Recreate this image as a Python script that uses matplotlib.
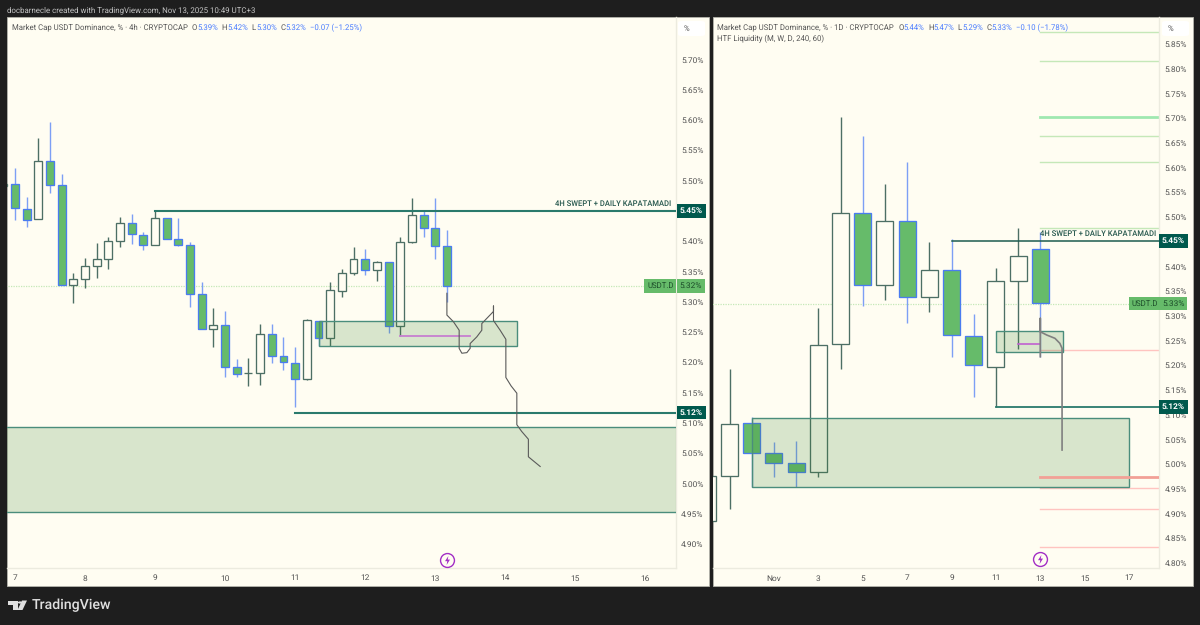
import matplotlib
matplotlib.use('Agg')
import matplotlib.pyplot as plt
from matplotlib.patches import Rectangle, Polygon, Circle, FancyBboxPatch

plt.rcParams['font.family'] = ['Roboto', 'DejaVu Sans']
plt.rcParams['text.hinting'] = 'none'

W, H = 1200, 625
BG = '#1e1e1e'
PANEL = '#fffdf2'
GREEN = '#66bb6a'
BLUE = '#4a7cf0'
WICK_BLUE = '#7d9ff5'
DARK = '#4d6f65'
TEAL = '#2a7a6c'
LABEL = '#00594d'
TEXT = '#555555'
HEAD_BLUE = '#4a7dff'
ZONE = (60 / 255, 133 / 255, 52 / 255, 0.2)

# 4h candles, bar -1 is the one cut off at the left edge
h4_bars = list(range(-1, 38))
h4_open = [5.491, 5.494, 5.4527, 5.436, 5.533, 5.493, 5.327, 5.3376, 5.3586, 5.370,
           5.400, 5.430, 5.411, 5.393, 5.438, 5.403, 5.394, 5.312, 5.255, 5.261,
           5.192, 5.182, 5.182, 5.246, 5.2104, 5.199, 5.173, 5.269, 5.240, 5.318,
           5.3475, 5.371, 5.352, 5.365, 5.2595, 5.399, 5.443, 5.422, 5.3926]
h4_close = [5.494, 5.4543, 5.435, 5.533, 5.493, 5.327, 5.337, 5.3586, 5.370, 5.400,
            5.4306, 5.4114, 5.393, 5.438, 5.4036, 5.394, 5.312, 5.255, 5.2616, 5.193,
            5.181, 5.182, 5.246, 5.211, 5.200, 5.173, 5.270, 5.240, 5.319, 5.3475,
            5.371, 5.352, 5.366, 5.2595, 5.399, 5.443, 5.422, 5.3926, 5.3265]
h4_high = [5.494, 5.5214, 5.4725, 5.570, 5.597, 5.5105, 5.348, 5.3728, 5.3975, 5.4064,
           5.4405, 5.445, 5.415, 5.4515, 5.438, 5.438, 5.399, 5.3326, 5.289, 5.285,
           5.2055, 5.2076, 5.264, 5.264, 5.242, 5.225, 5.271, 5.269, 5.3326, 5.3536,
           5.390, 5.387, 5.368, 5.365, 5.4064, 5.471, 5.4515, 5.471, 5.4185]
h4_low = [5.491, 5.435, 5.423, 5.436, 5.479, 5.327, 5.2975, 5.3232, 5.3387, 5.3536,
          5.391, 5.395, 5.386, 5.393, 5.4036, 5.3916, 5.292, 5.255, 5.226, 5.176,
          5.176, 5.161, 5.163, 5.199, 5.187, 5.127, 5.171, 5.227, 5.227, 5.308,
          5.344, 5.345, 5.334, 5.248, 5.2435, 5.3965, 5.4064, 5.370, 5.300]

h4_path_x = [37, 37, 37.56, 38.05, 38.05, 38.28, 38.71, 38.99, 38.99, 39.56, 39.99, 39.99,
             40.99, 40.99, 40.99, 41.56, 42.05, 42.05, 42.5, 42.99, 42.99, 43.4, 43.98, 43.98, 44.99]
h4_path_y = [5.314, 5.278, 5.267, 5.253, 5.223, 5.215, 5.216, 5.223, 5.231, 5.242, 5.253, 5.264,
             5.284, 5.293, 5.269, 5.253, 5.238, 5.175, 5.161, 5.149, 5.097, 5.086, 5.073, 5.044, 5.028]

h4_day_ticks = [0, 6, 12, 18, 24, 30, 36, 42, 48, 54]
h4_day_labels = ['7', '8', '9', '10', '11', '12', '13', '14', '15', '16']
# 5.45% sits behind the level label
h4_price_ticks = [5.70, 5.65, 5.60, 5.55, 5.50, 5.40, 5.35, 5.30, 5.25, 5.20,
                  5.15, 5.10, 5.05, 5.00, 4.95, 4.90]

# daily candles, x is the day of November (0 = Oct 31)
d1_days = list(range(-2, 14))
d1_open = [4.8856, 4.9754, 5.0838, 5.0231, 5.0017, 4.9847, 5.2431, 5.5075, 5.3624,
           5.4925, 5.3375, 5.3922, 5.2599, 5.1959, 5.3699, 5.4352]
d1_close = [4.976, 5.0818, 5.0231, 5.0017, 4.9847, 5.2416, 5.5075, 5.3624, 5.4925,
            5.3375, 5.3922, 5.2619, 5.2, 5.3699, 5.4211, 5.3254]
d1_high = [4.976, 5.1919, 5.0948, 5.0442, 5.0468, 5.3159, 5.7029, 5.6633, 5.5667,
           5.6107, 5.4488, 5.4549, 5.3037, 5.3962, 5.4771, 5.4702]
d1_low = [4.8856, 4.9098, 4.9531, 4.9746, 4.9531, 4.9746, 5.1919, 5.3199, 5.3321,
          5.2849, 5.3072, 5.2174, 5.1364, 5.1162, 5.2329, 5.2174]

d1_path_x = [13, 13, 13, 13.29, 13.66, 13.88, 13.98, 13.98]
d1_path_y = [5.2174, 5.295, 5.2679, 5.2613, 5.2546, 5.2445, 5.2344, 5.0286]

d1_day_ticks = [1, 3, 5, 7, 9, 11, 13, 15, 17]
d1_day_labels = ['Nov', '3', '5', '7', '9', '11', '13', '15', '17']
d1_price_ticks = [5.85, 5.80, 5.75, 5.70, 5.65, 5.60, 5.55, 5.50, 5.40, 5.35, 5.30,
                  5.25, 5.20, 5.15, 5.10, 5.05, 5.00, 4.95, 4.90, 4.85, 4.80]

# HTF liquidity levels on the daily chart
liq_green = [5.8749, 5.8162, 5.6639, 5.6107, 5.4771]
liq_green_main = 5.7029
liq_red = [5.2315, 4.9523, 4.9098, 4.8318]
liq_red_main = 4.974

FONT_TICK = 6.0
FONT_HEAD = 5.6
BOLT = [(0.2, 1), (-0.55, -0.15), (-0.05, -0.15), (-0.2, -1), (0.55, 0.2), (0.05, 0.2), (0.2, 1)]


def px_axes(fig, left, top, right, bottom):
    return fig.add_axes([left / W, 1 - bottom / H, (right - left) / W, (bottom - top) / H])


def px_text(fig, x, y, s, **kw):
    kw.setdefault('va', 'center')
    kw.setdefault('fontsize', FONT_HEAD)
    kw.setdefault('color', TEXT)
    fig.text(x / W, 1 - y / H, s, **kw)


def px_rect(fig, left, top, right, bottom, **kw):
    fig.add_artist(Rectangle((left / W, 1 - bottom / H), (right - left) / W, (bottom - top) / H,
                             transform=fig.transFigure, zorder=-1, **kw))


def draw_candles(ax, xs, opens, highs, lows, closes, width):
    for x, o, h, l, c in zip(xs, opens, highs, lows, closes):
        up = c >= o
        ax.vlines(x, l, h, color=DARK if up else WICK_BLUE, lw=1.0, zorder=2)
        ax.bar(x, abs(c - o), width=width, bottom=min(o, c), color=PANEL if up else GREEN,
               edgecolor=DARK if up else BLUE, linewidth=0.95, zorder=3)


def zone(ax, x0, x1, top, bottom):
    ax.add_patch(Rectangle((x0, bottom), x1 - x0, top - bottom, facecolor=ZONE,
                           edgecolor='#4a8d7c', linewidth=1.0, zorder=4))


def axis_label(ax, price, text, color, x=1.0, txt_color='white', weight='bold'):
    ax.text(x, price, text, transform=ax.get_yaxis_transform(), ha='left', va='center',
            fontsize=FONT_TICK, color=txt_color, fontweight=weight, clip_on=False, zorder=10,
            bbox=dict(boxstyle='square,pad=0.35', fc=color, ec='none'))


def setup_axes(ax, day_ticks, day_labels, price_ticks):
    ax.set_facecolor('none')
    ax.yaxis.tick_right()
    ax.set_xticks(day_ticks, day_labels)
    ax.set_yticks(price_ticks, ['%.2f%%' % p for p in price_ticks])
    ax.tick_params(axis='both', length=0, labelsize=FONT_TICK, labelcolor=TEXT)
    ax.tick_params(axis='x', pad=5)
    ax.tick_params(axis='y', pad=4)
    for side in ['left', 'top']:
        ax.spines[side].set_visible(False)
    for side in ['right', 'bottom']:
        ax.spines[side].set_color('#ecebdf')
        ax.spines[side].set_linewidth(1)


def bolt(ax, x, y):
    ax.plot([x], [y], 'o', ms=10, mfc='none', mec='#a32fc5', mew=1.0, zorder=6)
    ax.plot([x], [y], marker=BOLT, ms=6.5, mfc='#a32fc5', mec='none', zorder=6)


def main():
    fig = plt.figure(figsize=(W / 100, H / 100), dpi=100, facecolor=BG)

    px_rect(fig, 7, 17.3, 709, 585.5, facecolor=PANEL, edgecolor='#b5b5ad', linewidth=0.6)
    px_rect(fig, 712.7, 17.3, 1193.3, 585.5, facecolor=PANEL, edgecolor='#b5b5ad', linewidth=0.6)

    # left chart, 4h
    ax = px_axes(fig, 7, 17.3, 675.7, 567.5)
    setup_axes(ax, h4_day_ticks, h4_day_labels, h4_price_ticks)
    ax.set_xlim(-0.686, 56.6)
    ax.set_ylim(4.8612, 5.7697)

    ax.plot([-1, 54.2], [5.326, 5.326], color='#c5e8b8', lw=0.9, ls=(0, (1, 1)), zorder=1)
    draw_candles(ax, h4_bars, h4_open, h4_high, h4_low, h4_close, 0.68)
    zone(ax, 26.05, 43, 5.269, 5.227)
    zone(ax, -2, 60, 5.0927, 4.953)
    ax.plot([12, 57], [5.45, 5.45], color=TEAL, lw=1.5, zorder=5)
    ax.plot([24, 57], [5.117, 5.117], color=TEAL, lw=1.5, zorder=5)
    ax.plot([33, 39], [5.244, 5.244], color='#c77fd0', lw=1.3, zorder=5)
    ax.plot(h4_path_x, h4_path_y, color='#5a5a5a', lw=0.8, zorder=6)
    ax.text(56.2, 5.4625, '4H SWEPT + DAILY KAPATAMADI', ha='right', va='center',
            fontsize=5.5, fontweight='medium', color='#24564c', zorder=7)
    bolt(ax, 37, 4.874)

    axis_label(ax, 5.45, '5.45%', LABEL, x=1.006)
    axis_label(ax, 5.117, '5.12%', LABEL, x=1.006)
    axis_label(ax, 5.326, '5.32%', GREEN, x=1.006, txt_color='#1d4d2a', weight='normal')
    ax.text(0.997, 5.326, 'USDT.D', transform=ax.get_yaxis_transform(), ha='right', va='center',
            fontsize=5.6, color='#1d4d2a', zorder=10, clip_on=False,
            bbox=dict(boxstyle='square,pad=0.35', fc=GREEN, ec='none'))

    # right chart, daily
    ax2 = px_axes(fig, 712.7, 17.3, 1159.3, 567.5)
    setup_axes(ax2, d1_day_ticks, d1_day_labels, d1_price_ticks)
    ax2.set_xlim(-1.757, 18.36)
    ax2.set_ylim(4.791, 5.904)

    ax2.plot([-3, 17.1], [5.3246, 5.3246], color='#c5e8b8', lw=0.9, ls=(0, (1, 1)), zorder=1)
    for p in liq_green:
        ax2.plot([13, 19], [p, p], color='#c5e8b8', lw=1.0, zorder=1)
    ax2.plot([13, 19], [liq_green_main] * 2, color='#9fe8b0', lw=2.0, zorder=1)
    for p in liq_red:
        ax2.plot([13, 19], [p, p], color='#ffc4c0', lw=1.0, zorder=1)
    ax2.plot([13, 19], [liq_red_main] * 2, color='#f2a096', lw=2.0, zorder=5)

    draw_candles(ax2, d1_days, d1_open, d1_high, d1_low, d1_close, 0.76)
    zone(ax2, 0, 17, 5.094, 4.9531)
    zone(ax2, 11, 14, 5.2694, 5.2263)
    ax2.plot([9, 19], [5.4514, 5.4514], color='#1d5c50', lw=1.1, zorder=5)
    ax2.plot([11, 19], [5.1156, 5.1156], color=TEAL, lw=1.3, zorder=5)
    ax2.plot([12, 13], [5.243, 5.243], color='#c060d0', lw=1.2, zorder=5)
    ax2.plot(d1_path_x, d1_path_y, color='#808080', lw=1.2, zorder=6)
    ax2.text(18.2, 5.4655, '4H SWEPT + DAILY KAPATAMADI', ha='right', va='center',
             fontsize=5.5, fontweight='medium', color='#24564c', zorder=7)
    bolt(ax2, 13, 4.808)

    axis_label(ax2, 5.4514, '5.45%', LABEL, x=1.006)
    axis_label(ax2, 5.1156, '5.12%', LABEL, x=1.006)
    axis_label(ax2, 5.3246, '5.33%', GREEN, x=1.006, txt_color='#1d4d2a', weight='normal')
    ax2.text(0.997, 5.3246, 'USDT.D', transform=ax2.get_yaxis_transform(), ha='right', va='center',
             fontsize=5.6, color='#1d4d2a', zorder=10, clip_on=False,
             bbox=dict(boxstyle='square,pad=0.35', fc=GREEN, ec='none'))

    # % buttons on the price scales
    for x0, x_pct in [(678, 686), (1162, 1170)]:
        fig.add_artist(FancyBboxPatch((x0 / W, 1 - 36 / H), 27 / W, 15 / H, transform=fig.transFigure,
                                      boxstyle='round,pad=0,rounding_size=0.003', fc='white', ec='none'))
        px_text(fig, x_pct, 29, '%', ha='center')

    # header lines
    px_text(fig, 7, 10, 'docbarnecle created with TradingView.com, Nov 13, 2025 10:49 UTC+3',
            color='#c4c4c4', fontsize=5.65)
    px_text(fig, 11.5, 27.5, 'Market Cap USDT Dominance, % \u00b7 4h \u00b7 CRYPTOCAP')
    px_text(fig, 717.3, 27.5, 'Market Cap USDT Dominance, % \u00b7 1D \u00b7 CRYPTOCAP')
    px_text(fig, 717.3, 38.5, 'HTF Liquidity (M, W, D, 240, 60)')
    for x, s, col in [(192, 'O', TEXT), (197.3, '5.39%', HEAD_BLUE), (221.7, 'H', TEXT),
                      (227.3, '5.42%', HEAD_BLUE), (251.7, 'L', TEXT), (256, '5.30%', HEAD_BLUE),
                      (280.3, 'C', TEXT), (285.7, '5.32%', HEAD_BLUE),
                      (310, '\u22120.07 (\u22121.25%)', HEAD_BLUE),
                      (898.3, 'O', TEXT), (903.7, '5.44%', HEAD_BLUE), (928, 'H', TEXT),
                      (933, '5.47%', HEAD_BLUE), (957.7, 'L', TEXT), (962, '5.29%', HEAD_BLUE),
                      (986.7, 'C', TEXT), (991.7, '5.33%', HEAD_BLUE),
                      (1016, '\u22120.10 (\u22121.78%)', HEAD_BLUE)]:
        px_text(fig, x, 27.5, s, color=col)

    # TradingView logo and name in the footer
    logo = '#e0e0e0'
    to_fig = lambda pts: [(x / W, 1 - y / H) for x, y in pts]
    fig.add_artist(Polygon(to_fig([(8, 600.5), (17.5, 600.5), (17.5, 610), (12.5, 610), (12.5, 605), (8, 605)]),
                           transform=fig.transFigure, fc=logo, ec='none'))
    fig.add_artist(Circle((20 / W, 1 - 602.5 / H), 0.0018, transform=fig.transFigure, fc=logo, ec='none'))
    fig.add_artist(Polygon(to_fig([(22, 600.5), (27, 600.5), (22.5, 610), (17.5, 610)]),
                           transform=fig.transFigure, fc=logo, ec='none'))
    px_text(fig, 32, 605, 'TradingView', color=logo, fontsize=10.2, fontweight='medium')

    fig.savefig('out.png', dpi=100, facecolor=BG)


if __name__ == '__main__':
    main()
